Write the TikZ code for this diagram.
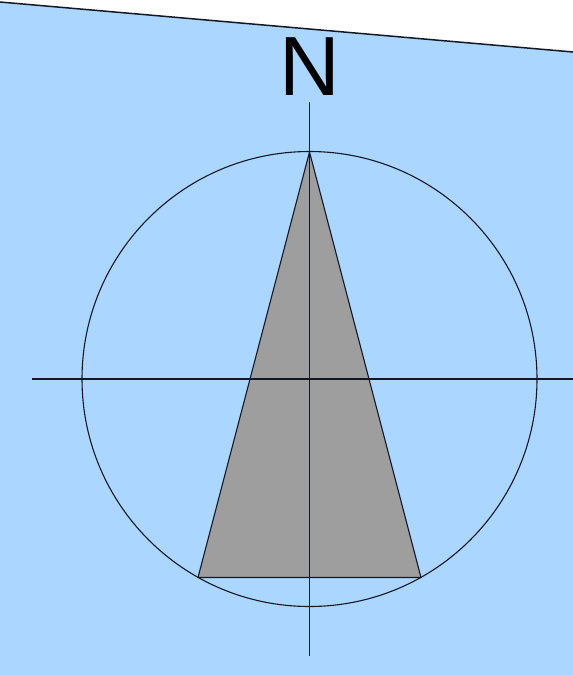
\documentclass[tikz,border=0pt]{standalone}
\usepackage{fontspec}
\setmainfont{Liberation Sans}
\usetikzlibrary{positioning,calc}
\definecolor{sky}{RGB}{170,214,255}
\definecolor{stone}{RGB}{158,158,158}
\definecolor{ink}{RGB}{20,24,38}
\tikzset{
  px/.style={x=1pt,y=-1pt},
  rule/.style={draw=ink,line width=1.1pt},
  needle/.style={fill=stone,draw=ink,line width=1.1pt,line join=round},
  letter/.style={font=\fontsize{84}{84}\selectfont,inner sep=0pt,anchor=base},
}
\begin{document}
\begin{tikzpicture}[px]
  \useasboundingbox (0,0) rectangle (573,675);
  % sea and sky
  \fill[sky] (0,2) -- (573,52) -- (573,675) -- (0,675) -- cycle;
  \coordinate (coastW) at (0,2);
  \coordinate (coastE) at (573,52);
  \draw[ink,line width=1.5pt] (coastW) -- (coastE);
  % compass
  \coordinate (ctr) at (309.5,379);
  \coordinate (tip) at (309.5,152);
  \coordinate (baseL) at (198,577.5);
  \coordinate (baseR) at (421,577.5);
  \coordinate (vtop) at (309.5,102);
  \coordinate (vbot) at (309.5,656);
  \coordinate (hleft) at (32,379);
  \coordinate (hright) at (573,379);
  \draw[needle] (tip) -- (baseR) -- (baseL) -- cycle;
  \draw[rule] (ctr) circle (227.5);
  \draw[rule] (vtop) -- (vbot);
  \draw[rule] (hleft) -- (hright);
  \node[letter] (north) at (309.5,95) {N};
\end{tikzpicture}
\end{document}
